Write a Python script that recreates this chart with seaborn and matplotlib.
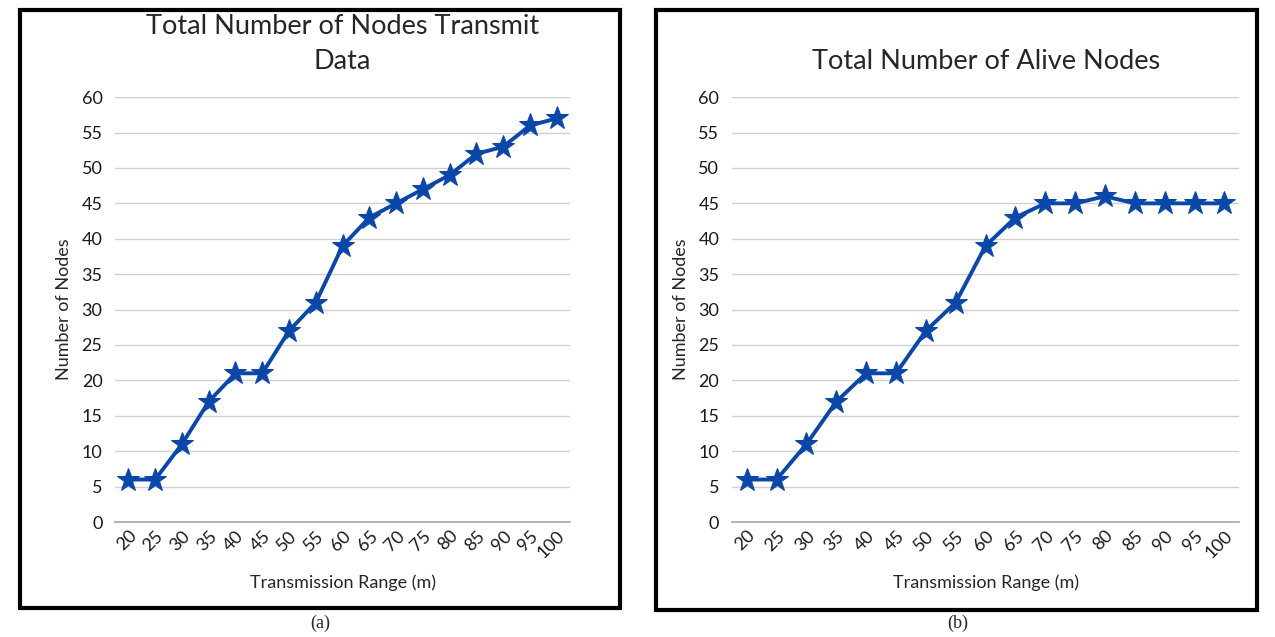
import matplotlib
matplotlib.use("Agg")
import matplotlib.pyplot as plt
import seaborn as sns
import pandas as pd
from matplotlib.patches import Rectangle

ranges = [20, 25, 30, 35, 40, 45, 50, 55, 60, 65, 70, 75, 80, 85, 90, 95, 100]
nodes_transmit = [6, 6, 11, 17, 21, 21, 27, 31, 39, 43, 45, 47, 49, 52, 53, 56, 57]
nodes_alive = [6, 6, 11, 17, 21, 21, 27, 31, 39, 43, 45, 45, 46, 45, 45, 45, 45]
y_ticks = [0, 5, 10, 15, 20, 25, 30, 35, 40, 45, 50, 55, 60]
titles = ["Total Number of Nodes Transmit\nData", "Total Number of Alive Nodes"]
captions = ["(a)", "(b)"]

sns.set_style("white")
plt.rcParams["font.family"] = ["Lato", "DejaVu Sans"]

line_color = "#0A47A8"
grid_color = "#D0D0D0"

fig = plt.figure(figsize=(12.75, 6.37), dpi=100)

panels = [
    # axes rect, border rect, caption x
    ([0.0902, 0.1805, 0.357, 0.667], [0.0157, 0.0455, 0.4706, 0.939], 0.251),
    ([0.574, 0.1805, 0.398, 0.667], [0.5145, 0.042, 0.4714, 0.942], 0.751),
]

for (ax_rect, box, cap_x), values, title, caption in zip(panels, [nodes_transmit, nodes_alive], titles, captions):
    ax = fig.add_axes(ax_rect)
    df = pd.DataFrame({"Range": [str(r) for r in ranges], "Nodes": values})
    sns.lineplot(data=df, x="Range", y="Nodes", ax=ax, color=line_color,
                 linewidth=2.8, marker="*", markersize=17,
                 markeredgecolor=line_color, markerfacecolor=line_color)
    ax.set_xlim(-0.5, len(ranges) - 0.5)
    ax.set_ylim(0, 60)
    ax.set_yticks(y_ticks)
    ax.yaxis.grid(True, color=grid_color, linewidth=1)
    ax.set_axisbelow(True)
    for side in ["top", "right", "left"]:
        ax.spines[side].set_visible(False)
    ax.spines["bottom"].set_color("#A6A6A6")
    ax.spines["bottom"].set_linewidth(1.2)
    ax.tick_params(axis="both", length=0, labelsize=13, colors="#1a1a1a")
    ax.tick_params(axis="y", pad=9)
    ax.tick_params(axis="x", pad=4)
    plt.setp(ax.get_xticklabels(), rotation=45, ha="right", rotation_mode="anchor")
    ax.set_xlabel("Transmission Range (m)", fontsize=13, labelpad=10)
    ax.set_ylabel("Number of Nodes", fontsize=13, labelpad=7)
    ax.set_title(title, fontsize=19.5, pad=20, linespacing=1.5)

    fig.patches.append(Rectangle((box[0], box[1]), box[2], box[3],
                                 transform=fig.transFigure, fill=False,
                                 edgecolor="black", linewidth=3))
    fig.text(cap_x, 0.022, caption, ha="center", va="center",
             fontsize=13, family=["Liberation Serif", "DejaVu Serif"])

fig.savefig("out.png", dpi=100, facecolor="white")
